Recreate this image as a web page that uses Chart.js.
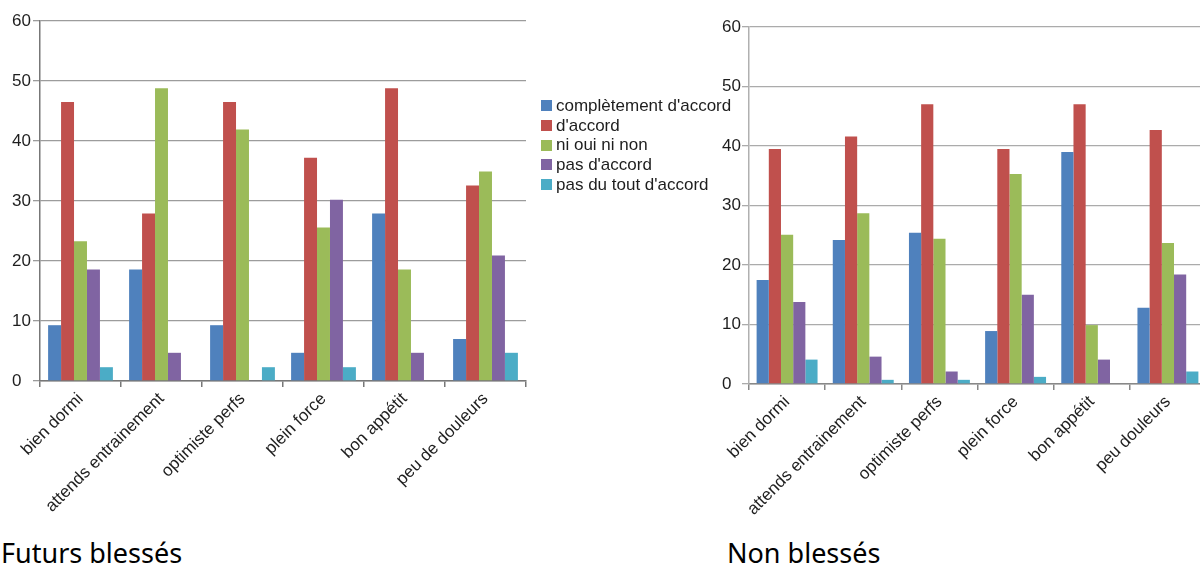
<!DOCTYPE html>
<html lang="fr">
<head>
<meta charset="utf-8">
<title>Futurs blessés / Non blessés</title>
<script src="https://cdn.jsdelivr.net/npm/chart.js@4.4.1/dist/chart.umd.min.js"></script>
<style>
  html, body { margin: 0; padding: 0; background: #fff; overflow: hidden; }
  body { width: 1200px; height: 568px; position: relative; }
  .chart { position: absolute; }
  #left { left: 0; top: 0; }
  #right { left: 710px; top: 0; }
  #legend {
    position: absolute; left: 541px; top: 96px;
    font-family: "Liberation Sans", Arial, sans-serif; font-size: 17px; color: #1e1e1e;
  }
  #legend .row { display: flex; align-items: center; height: 19.7px; white-space: nowrap; }
  #legend .sw { width: 11px; height: 11px; margin-right: 4px; flex: none; }
  .caption {
    position: absolute; font-family: "Noto Sans", "Open Sans", sans-serif;
    font-size: 27px; color: #000; line-height: 1;
  }
</style>
</head>
<body>
<canvas id="left" class="chart" width="540" height="532"></canvas>
<canvas id="right" class="chart" width="500" height="532"></canvas>
<div id="legend"></div>
<div class="caption" style="left:1px; top:539px;">Futurs blessés</div>
<div class="caption" style="left:727px; top:539px;">Non blessés</div>
<script>
// Questionnaire items (x axis)
const itemsInjured = ['bien dormi', 'attends entrainement', 'optimiste perfs', 'plein force', 'bon appétit', 'peu de douleurs'];
const itemsUninjured = ['bien dormi', 'attends entrainement', 'optimiste perfs', 'plein force', 'bon appétit', 'peu douleurs'];

// Answer levels
const answerLevels = ["complètement d'accord", "d'accord", 'ni oui ni non', "pas d'accord", "pas du tout d'accord"];
const levelColors = ['#4F81BD', '#C0504D', '#9BBB59', '#8064A2', '#4BACC6'];

// Y axis ticks (percent)
const yTicks = [0, 10, 20, 30, 40, 50, 60];

// Futurs blessés: percentage of answers per level
const injuredFullyAgree = [9.3, 18.6, 9.3, 4.7, 27.9, 7.0];
const injuredAgree      = [46.5, 27.9, 46.5, 37.2, 48.8, 32.6];
const injuredNeutral    = [23.3, 48.8, 41.9, 25.6, 18.6, 34.9];
const injuredDisagree   = [18.6, 4.7, 0, 30.2, 4.7, 20.9];
const injuredFullyDis   = [2.3, 0, 2.3, 2.3, 0, 4.7];

// Non blessés: percentage of answers per level
const uninjuredFullyAgree = [17.5, 24.2, 25.4, 8.9, 39.0, 12.8];
const uninjuredAgree      = [39.5, 41.6, 47.0, 39.5, 47.0, 42.7];
const uninjuredNeutral    = [25.1, 28.7, 24.4, 35.3, 9.9, 23.7];
const uninjuredDisagree   = [13.8, 4.6, 2.1, 15.0, 4.1, 18.4];
const uninjuredFullyDis   = [4.1, 0.7, 0.7, 1.2, 0, 2.1];

const injuredSeries = [injuredFullyAgree, injuredAgree, injuredNeutral, injuredDisagree, injuredFullyDis];
const uninjuredSeries = [uninjuredFullyAgree, uninjuredAgree, uninjuredNeutral, uninjuredDisagree, uninjuredFullyDis];

const tickFont = { family: '"Liberation Sans", Arial, sans-serif', size: 17 };

function makeDatasets(series) {
  return series.map((values, i) => ({
    label: answerLevels[i],
    data: values,
    backgroundColor: levelColors[i],
    borderWidth: 0,
    barPercentage: 1.0,
    categoryPercentage: 0.8
  }));
}

function makeOptions(o) {
  return {
    responsive: false,
    animation: false,
    devicePixelRatio: 1,
    layout: { padding: o.padding },
    plugins: { legend: { display: false }, tooltip: { enabled: false } },
    scales: {
      x: {
        grid: { display: true, drawOnChartArea: false, offset: true, tickLength: 6, color: o.axisColor, lineWidth: 1.5 },
        border: { color: o.axisColor, width: 1.5 },
        ticks: { autoSkip: false, minRotation: 45, maxRotation: 45, padding: 2, font: tickFont, color: '#1e1e1e' },
        afterFit: s => { s.height = o.xHeight; }
      },
      y: {
        min: 0, max: 60,
        afterBuildTicks: s => { s.ticks = yTicks.map(v => ({ value: v })); },
        ticks: { crossAlign: 'far', padding: 0, font: tickFont, color: '#1e1e1e' },
        grid: { color: o.gridColor, lineWidth: 1.3, tickLength: 7 },
        border: { color: o.yAxisColor, width: 1.5 },
        afterFit: s => { s.width = o.yWidth; }
      }
    }
  };
}

const leftChart = new Chart(document.getElementById('left'), {
  type: 'bar',
  data: { labels: itemsInjured, datasets: makeDatasets(injuredSeries) },
  options: makeOptions({
    padding: { left: 12, top: 21, right: 14, bottom: 0 },
    xHeight: 151, yWidth: 28,
    axisColor: '#777777', yAxisColor: '#777777', gridColor: '#9c9c9c'
  })
});

new Chart(document.getElementById('right'), {
  type: 'bar',
  data: { labels: itemsUninjured, datasets: makeDatasets(uninjuredSeries) },
  options: makeOptions({
    padding: { left: 12, top: 27, right: 4, bottom: 0 },
    xHeight: 148, yWidth: 27,
    axisColor: '#888888', yAxisColor: '#b0b0b0', gridColor: '#ababab'
  })
});

// Shared legend built from the datasets
const legend = document.getElementById('legend');
leftChart.data.datasets.forEach(ds => {
  const row = document.createElement('div');
  row.className = 'row';
  const sw = document.createElement('span');
  sw.className = 'sw';
  sw.style.background = ds.backgroundColor;
  const txt = document.createElement('span');
  txt.textContent = ds.label;
  row.appendChild(sw);
  row.appendChild(txt);
  legend.appendChild(row);
});
</script>
</body>
</html>
